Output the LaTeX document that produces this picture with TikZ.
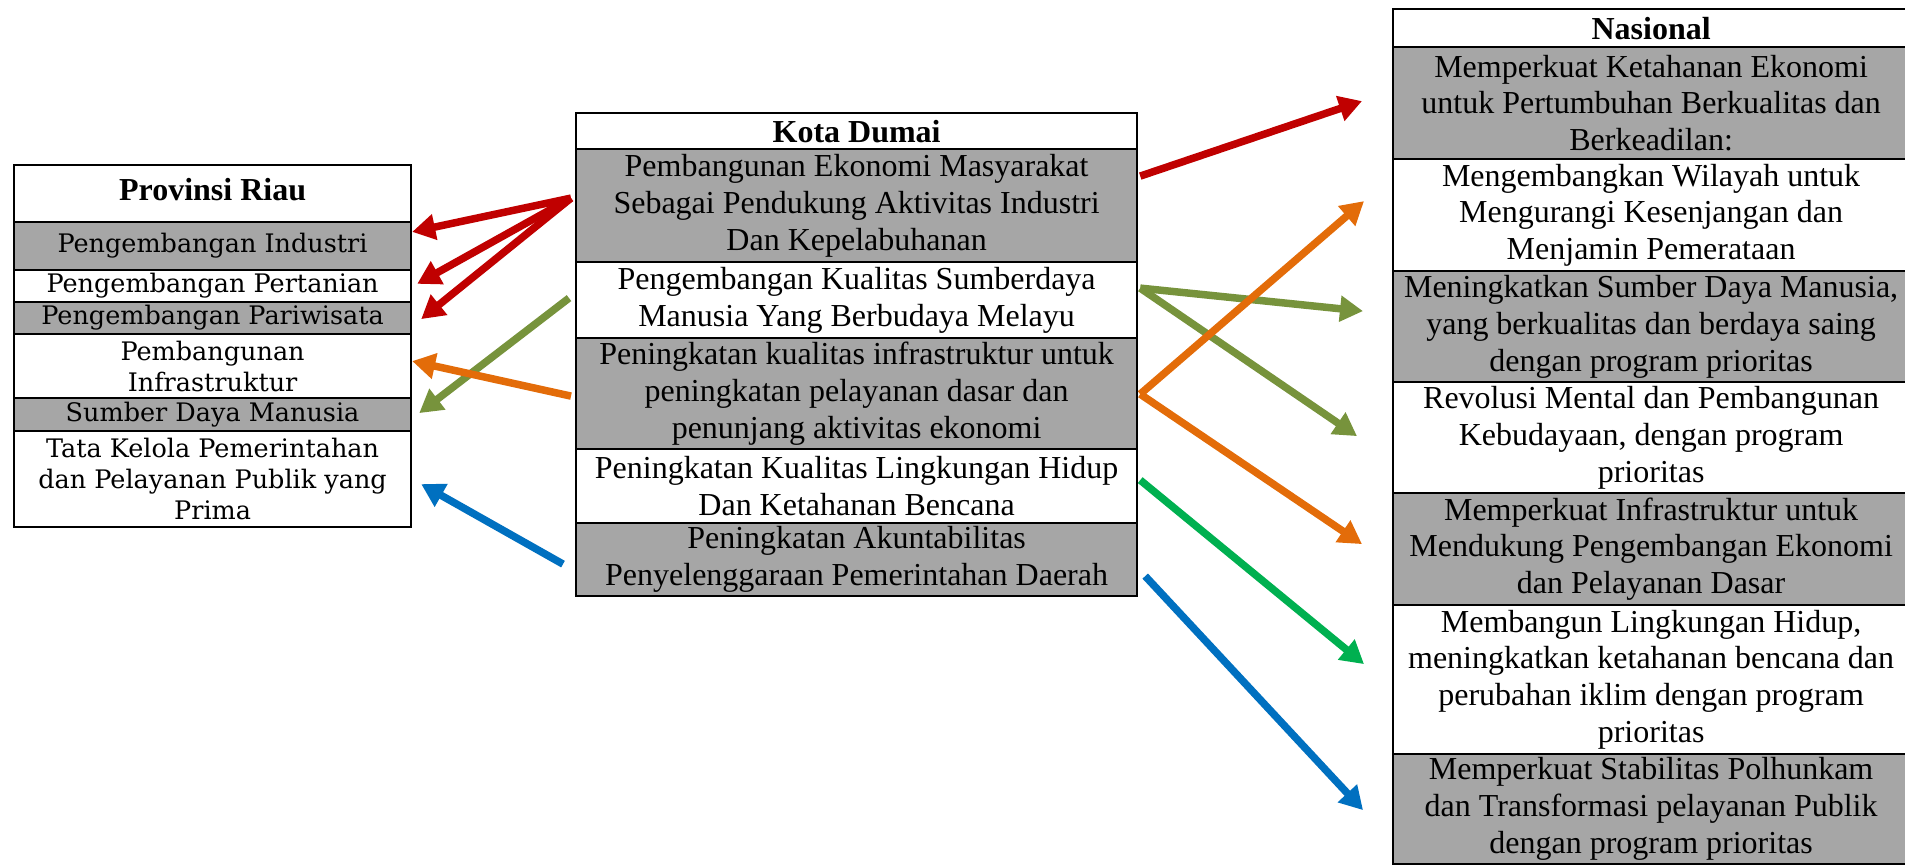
\documentclass[tikz,border=0pt]{standalone}
\usepackage{fontspec}
\setmainfont{Liberation Serif}
\newfontfamily\bookfont{DejaVu Serif}
\usetikzlibrary{arrows.meta}
\definecolor{cellgray}{HTML}{A6A6A6}
\definecolor{ared}{HTML}{C00000}
\definecolor{aolive}{HTML}{77933C}
\definecolor{aorange}{HTML}{E36C09}
\definecolor{agreen}{HTML}{00B050}
\definecolor{ablue}{HTML}{0070C0}
\begin{document}
\begin{tikzpicture}[x=1pt,y=-1pt,
 cell/.style={draw=black, line width=2.2pt, anchor=north west, inner sep=0pt, align=center, fill=white},
 grey/.style={fill=cellgray},
 lcell/.style={cell, minimum width=397pt, font=\bookfont\fontsize{25.5}{31}\selectfont},
 mcell/.style={cell, minimum width=561pt, font=\fontsize{32}{36.8}\selectfont},
 ncell/.style={cell, minimum width=516pt, font=\fontsize{32}{36.8}\selectfont},
 ttl/.style={font=\bfseries\fontsize{32}{36}\selectfont},
 arr/.style={line width=7.5pt, -{Triangle[length=23pt,width=25pt]}},
]
\useasboundingbox (0,0) rectangle (1905,865);
% Provinsi Riau
\node[lcell, ttl, minimum height=57pt] (l0) at (13,164) {\raisebox{9pt}{Provinsi Riau}};
\node[lcell, grey, minimum height=47.5pt] (l1) at (13,221) {Pengembangan Industri};
\node[lcell, minimum height=32.5pt] (l2) at (13,268.5) {Pengembangan Pertanian};
\node[lcell, grey, minimum height=32pt] (l3) at (13,301) {Pengembangan Pariwisata};
\node[lcell, minimum height=64pt] (l4) at (13,333) {Pembangunan\\Infrastruktur};
\node[lcell, grey, minimum height=33pt] (l5) at (13,397) {Sumber Daya Manusia};
\node[lcell, minimum height=96pt] (l6) at (13,430) {Tata Kelola Pemerintahan\\dan Pelayanan Publik yang\\Prima};
% Kota Dumai
\node[mcell, ttl, minimum height=36pt] (m0) at (575,112) {Kota Dumai};
\node[mcell, grey, minimum height=113pt] (m1) at (575,148) {Pembangunan Ekonomi Masyarakat\\Sebagai Pendukung Aktivitas Industri\\Dan Kepelabuhanan};
\node[mcell, minimum height=76pt] (m2) at (575,261) {Pengembangan Kualitas Sumberdaya\\Manusia Yang Berbudaya Melayu};
\node[mcell, grey, minimum height=111pt] (m3) at (575,337) {Peningkatan kualitas infrastruktur untuk\\peningkatan pelayanan dasar dan\\penunjang aktivitas ekonomi};
\node[mcell, minimum height=74pt] (m4) at (575,448) {Peningkatan Kualitas Lingkungan Hidup\\Dan Ketahanan Bencana};
\node[mcell, grey, minimum height=73pt] (m5) at (575,522) {Peningkatan Akuntabilitas\\Penyelenggaraan Pemerintahan Daerah};
% Nasional
\node[ncell, ttl, minimum height=38pt] (n0) at (1392,8) {Nasional};
\node[ncell, grey, minimum height=112pt] (n1) at (1392,46) {Memperkuat Ketahanan Ekonomi\\untuk Pertumbuhan Berkualitas dan\\Berkeadilan:};
\node[ncell, minimum height=112pt] (n2) at (1392,158) {Mengembangkan Wilayah untuk\\Mengurangi Kesenjangan dan\\Menjamin Pemerataan};
\node[ncell, grey, minimum height=111pt] (n3) at (1392,270) {Meningkatkan Sumber Daya Manusia,\\yang berkualitas dan berdaya saing\\dengan program prioritas};
\node[ncell, minimum height=111pt] (n4) at (1392,381) {Revolusi Mental dan Pembangunan\\Kebudayaan, dengan program\\prioritas};
\node[ncell, grey, minimum height=112pt] (n5) at (1392,492) {Memperkuat Infrastruktur untuk\\Mendukung Pengembangan Ekonomi\\dan Pelayanan Dasar};
\node[ncell, minimum height=149pt] (n6) at (1392,604) {Membangun Lingkungan Hidup,\\meningkatkan ketahanan bencana dan\\perubahan iklim dengan program\\prioritas};
\node[ncell, grey, minimum height=110pt] (n7) at (1392,753) {Memperkuat Stabilitas Polhunkam\\dan Transformasi pelayanan Publik\\dengan program prioritas};
% left arrows
\draw[arr, ared] ([shift={(-4pt,7.5pt)}]m1.west) -- ([yshift=14pt]l1.east);
\draw[arr, ared] ([shift={(-4pt,7.5pt)}]m1.west) -- ([shift={(5pt,2pt)}]l2.east);
\draw[arr, ared] ([shift={(-4pt,7.5pt)}]m1.west) -- ([shift={(9pt,-1pt)}]l3.east);
\draw[arr, aolive] ([shift={(-6pt,2pt)}]m2.west) -- ([shift={(7pt,1.5pt)}]l5.east);
\draw[arr, aorange] ([shift={(-4pt,-2.5pt)}]m3.west) -- ([yshift=5pt]l4.east);
\draw[arr, ablue] ([shift={(-12pt,-4.5pt)}]m5.west) -- ([shift={(9pt,-5pt)}]l6.east);
% right arrows
\draw[arr, ared] ([shift={(2pt,29.5pt)}]m1.east) -- ([shift={(-30pt,2pt)}]n1.west);
\draw[arr, aolive] ([shift={(2pt,12pt)}]m2.east) -- ([shift={(-29pt,15.5pt)}]n3.west);
\draw[arr, aolive] ([shift={(2pt,12pt)}]m2.east) -- ([shift={(-35pt,1.5pt)}]n4.west);
\draw[arr, aorange] ([shift={(2pt,-0.5pt)}]m3.east) -- ([shift={(-28pt,14pt)}]n2.west);
\draw[arr, aorange] ([shift={(2pt,-0.5pt)}]m3.east) -- ([shift={(-30pt,5pt)}]n5.west);
\draw[arr, agreen] ([shift={(2pt,6pt)}]m4.east) -- ([shift={(-28pt,15.5pt)}]n6.west);
\draw[arr, ablue] ([shift={(7pt,-16.5pt)}]m5.east) -- ([shift={(-29pt,-1pt)}]n7.west);
\end{tikzpicture}
\end{document}
